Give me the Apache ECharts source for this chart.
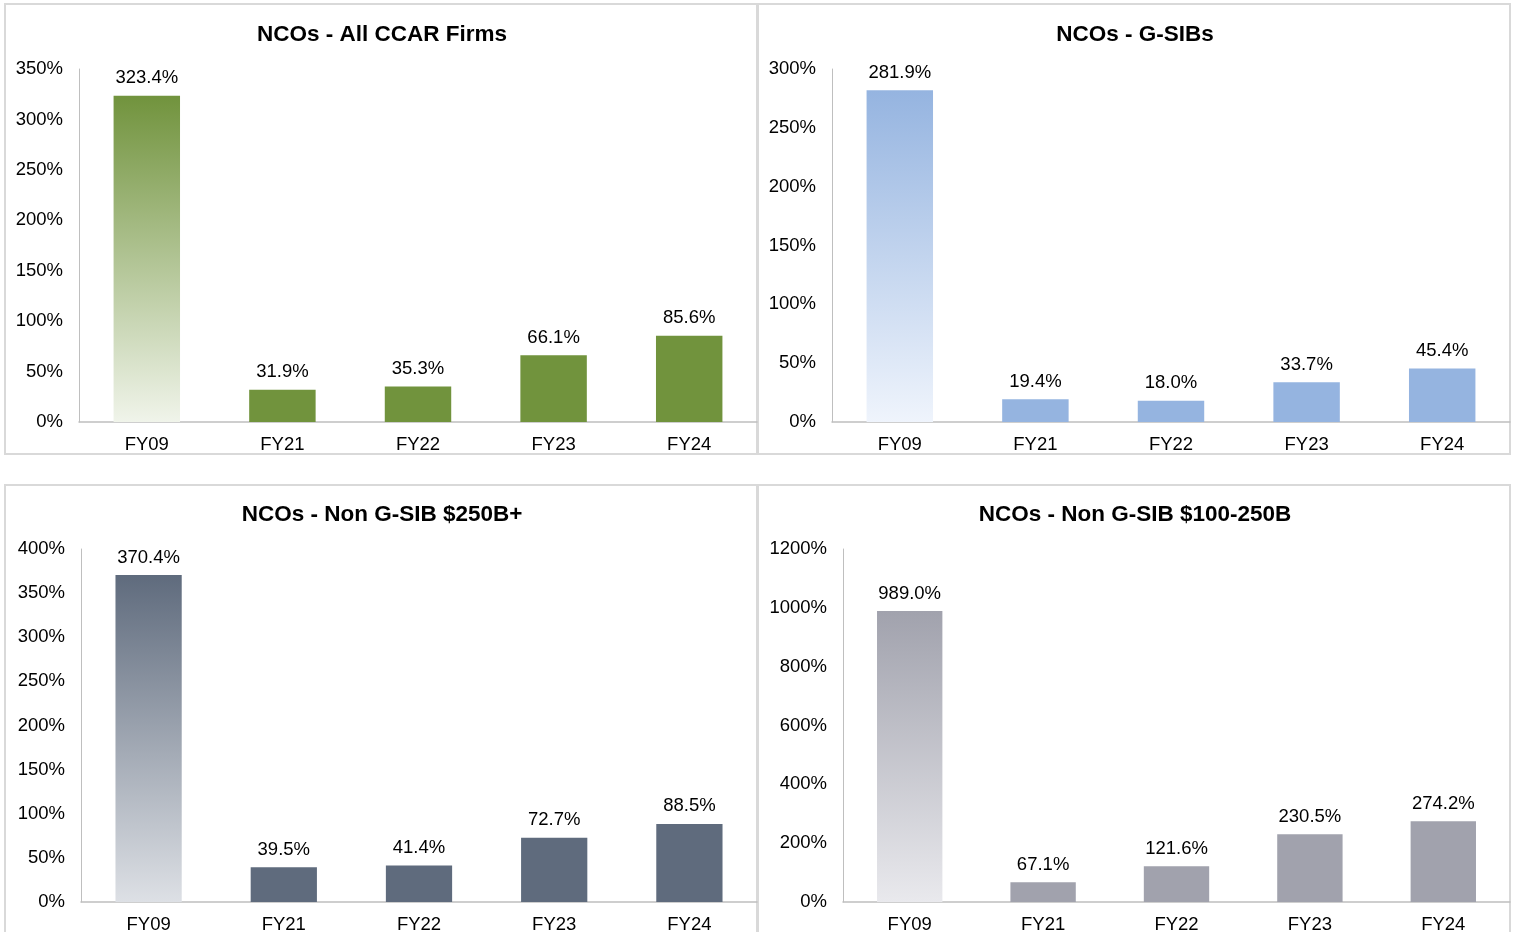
<!DOCTYPE html>
<html>
<head>
<meta charset="utf-8">
<script src="https://cdn.jsdelivr.net/npm/echarts@6/dist/echarts.min.js"></script>
<style>
  html, body { margin: 0; padding: 0; background: #fff; }
  #main { width: 1517px; height: 932px; }
</style>
</head>
<body>
<div id="main"></div>
<script>
const years = ['FY09', 'FY21', 'FY22', 'FY23', 'FY24'];
const allCcar = [323.4, 31.9, 35.3, 66.1, 85.6];
const gsibs = [281.9, 19.4, 18.0, 33.7, 45.4];
const nonGsib250 = [370.4, 39.5, 41.4, 72.7, 88.5];
const nonGsib100 = [989.0, 67.1, 121.6, 230.5, 274.2];

const titles = ['NCOs - All CCAR Firms', 'NCOs - G-SIBs', 'NCOs - Non G-SIB $250B+', 'NCOs - Non G-SIB $100-250B'];
const yMax = [350, 300, 400, 1200];
const yStep = [50, 50, 50, 200];

const font = 'Liberation Sans, Arial, sans-serif';

const panels = [
  { data: allCcar, color: '#71933d', light: '#f0f4ea', grid: { left: 79, right: 760, top: 69, bottom: 510 }, cx: 377, ty: 18 },
  { data: gsibs, color: '#95b4e0', light: '#eff4fc', grid: { left: 832, right: 7, top: 69, bottom: 510 }, cx: 1130, ty: 18 },
  { data: nonGsib250, color: '#5f6b7d', light: '#dde0e5', grid: { left: 81, right: 760, top: 549, bottom: 30 }, cx: 377, ty: 498 },
  { data: nonGsib100, color: '#a1a2ad', light: '#e9e9ed', grid: { left: 843, right: 7, top: 549, bottom: 30 }, cx: 1130, ty: 498 }
];

const chart = echarts.init(document.getElementById('main'));

const option = {
  animation: false,
  textStyle: { fontFamily: font },
  graphic: [
    { type: 'rect', shape: { x: 5, y: 4, width: 752, height: 450 }, style: { fill: 'none', stroke: '#d9d9d9', lineWidth: 2 } },
    { type: 'rect', shape: { x: 758, y: 4, width: 752, height: 450 }, style: { fill: 'none', stroke: '#d9d9d9', lineWidth: 2 } },
    { type: 'rect', shape: { x: 5, y: 485, width: 752, height: 460 }, style: { fill: 'none', stroke: '#d9d9d9', lineWidth: 2 } },
    { type: 'rect', shape: { x: 758, y: 485, width: 752, height: 460 }, style: { fill: 'none', stroke: '#d9d9d9', lineWidth: 2 } }
  ],
  title: panels.map((p, i) => ({
    text: titles[i],
    left: p.cx,
    top: p.ty,
    textAlign: 'center',
    textStyle: { fontFamily: font, fontSize: 22.5, fontWeight: 'bold', color: '#000' }
  })),
  grid: panels.map(p => Object.assign({ outerBoundsMode: 'none', containLabel: false }, p.grid)),
  xAxis: panels.map((p, i) => ({
    type: 'category',
    gridIndex: i,
    data: years,
    axisLine: { lineStyle: { color: '#bfbfbf', width: 1.5 } },
    axisTick: { show: false },
    axisLabel: { color: '#000', fontSize: 18.5, fontFamily: font, margin: 13 }
  })),
  yAxis: panels.map((p, i) => ({
    type: 'value',
    gridIndex: i,
    min: 0,
    max: yMax[i],
    interval: yStep[i],
    splitLine: { show: false },
    axisLine: { show: true, lineStyle: { color: '#bfbfbf', width: 1 } },
    axisTick: { show: false },
    axisLabel: { color: '#000', fontSize: 18.5, fontFamily: font, margin: 16, formatter: v => v + '%' }
  })),
  series: panels.map((p, i) => ({
    type: 'bar',
    xAxisIndex: i,
    yAxisIndex: i,
    barWidth: '49%',
    data: p.data.map((v, j) => ({
      value: v,
      itemStyle: {
        color: j === 0
          ? new echarts.graphic.LinearGradient(0, 0, 0, 1, [
              { offset: 0, color: p.color },
              { offset: 1, color: p.light }
            ])
          : p.color
      }
    })),
    label: {
      show: true,
      position: 'top',
      distance: 8,
      color: '#000',
      fontSize: 18.5,
      fontFamily: font,
      formatter: d => d.value.toFixed(1) + '%'
    }
  }))
};

chart.setOption(option);
</script>
</body>
</html>
